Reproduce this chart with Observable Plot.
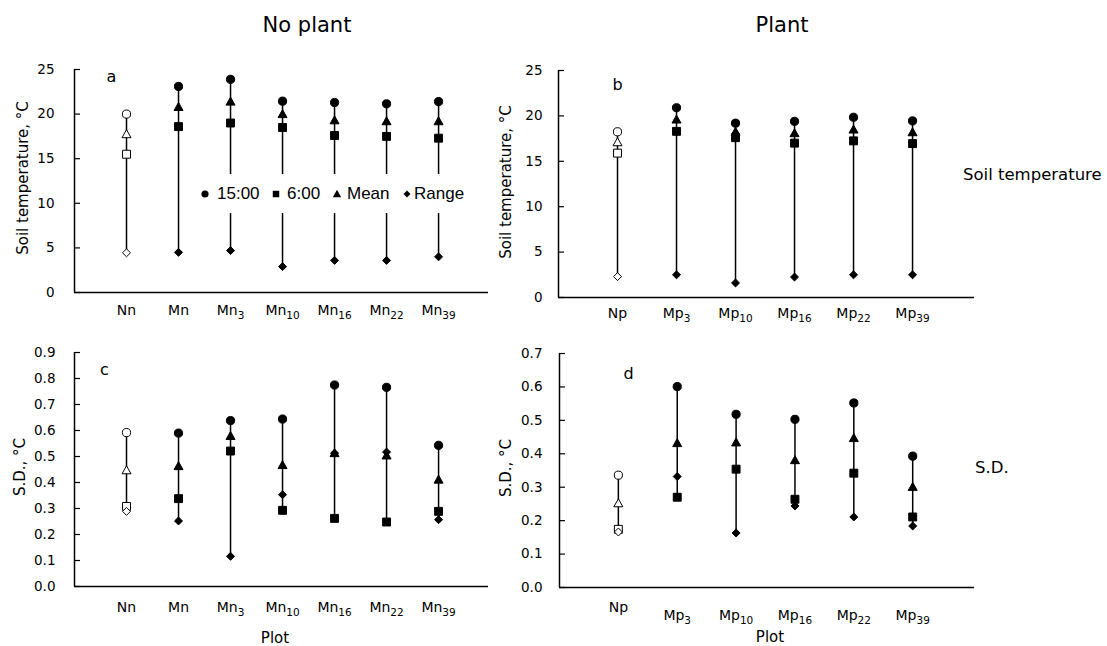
<!DOCTYPE html>
<html>
<head>
<meta charset="utf-8">
<script src="https://cdn.jsdelivr.net/npm/d3@7"></script>
<script src="https://cdn.jsdelivr.net/npm/@observablehq/plot@0.6"></script>
<style>
  html, body { margin: 0; padding: 0; background: white; }
  #wrap { position: relative; width: 1107px; height: 646px; background: white; font-family: "DejaVu Sans", sans-serif; color: black; overflow: hidden; }
  .t { position: absolute; transform: translate(-50%, -50%); white-space: nowrap; }
  .l { position: absolute; transform: translate(0, -50%); white-space: nowrap; }
  .r { position: absolute; transform: translate(-50%, -50%) rotate(-90deg); white-space: nowrap; }
  .panel { position: absolute; }
  .panel g[aria-label="x-axis tick label"] { font-size: 14px; }
  .panel g[aria-label="y-axis tick label"] { font-size: 13.5px; }
  .panel g[aria-label="text"] { font-size: 16px; }
  #legend { position: absolute; left: 196px; top: 174px; width: 276px; height: 39px; background: white; z-index: 2; font-family: "Liberation Sans", Arial, sans-serif; font-size: 17px; }
  #legend svg, #legend span { position: absolute; }
  #legend span { top: 50%; transform: translate(0, -50%); }
</style>
</head>
<body>
<div id="wrap">
  <div class="t" style="left:307px;top:25px;font-size:21px">No plant</div>
  <div class="t" style="left:782px;top:25px;font-size:21px">Plant</div>
  <div class="l" style="left:963px;top:174px;font-size:16.5px">Soil temperature</div>
  <div class="l" style="left:975px;top:467px;font-size:16.5px">S.D.</div>
  <div class="r" style="left:23px;top:178px;font-size:15px">Soil temperature, °C</div>
  <div class="r" style="left:506px;top:182px;font-size:15px">Soil temperature, °C</div>
  <div class="r" style="left:20px;top:467px;font-size:15px">S.D., °C</div>
  <div class="r" style="left:506px;top:468px;font-size:15px">S.D., °C</div>
  <div class="t" style="left:275px;top:638px;font-size:15px">Plot</div>
  <div class="t" style="left:770px;top:637px;font-size:15px">Plot</div>
  <div id="legend"></div>
</div>
<script>
// ---------- data ----------
const plotsNoPlant = ["Nn", "Mn", "Mn_3", "Mn_10", "Mn_16", "Mn_22", "Mn_39"];
const plotsPlant = ["Np", "Mp_3", "Mp_10", "Mp_16", "Mp_22", "Mp_39"];

// a: soil temperature, no plant (°C)
const tempNo1500 = [20.0, 23.1, 23.9, 21.45, 21.3, 21.15, 21.4];
const tempNo0600 = [15.5, 18.6, 19.0, 18.5, 17.6, 17.5, 17.3];
const tempNoMean = [17.75, 20.8, 21.4, 20.0, 19.3, 19.2, 19.2];
const tempNoRange = [4.45, 4.5, 4.7, 2.9, 3.6, 3.6, 4.0];

// b: soil temperature, plant (°C)
const tempPl1500 = [18.25, 20.9, 19.2, 19.4, 19.85, 19.45];
const tempPl0600 = [15.9, 18.3, 17.6, 17.0, 17.25, 16.95];
const tempPlMean = [17.1, 19.6, 18.25, 18.1, 18.5, 18.2];
const tempPlRange = [2.3, 2.5, 1.6, 2.25, 2.5, 2.5];

// c: S.D., no plant (°C)
const sdNo1500 = [0.592, 0.590, 0.638, 0.644, 0.775, 0.766, 0.543];
const sdNo0600 = [0.308, 0.338, 0.521, 0.293, 0.262, 0.248, 0.289];
const sdNoMean = [0.447, 0.463, 0.579, 0.467, 0.513, 0.504, 0.411];
const sdNoRange = [0.289, 0.252, 0.116, 0.353, 0.513, 0.517, 0.257];

// d: S.D., plant (°C)
const sdPl1500 = [0.336, 0.601, 0.518, 0.503, 0.552, 0.393];
const sdPl0600 = [0.174, 0.270, 0.354, 0.264, 0.342, 0.211];
const sdPlMean = [0.252, 0.432, 0.434, 0.381, 0.447, 0.301];
const sdPlRange = [0.166, 0.332, 0.163, 0.244, 0.211, 0.184];

const tempTicks = [0, 5, 10, 15, 20, 25];
const sdTicksNo = [0, 0.1, 0.2, 0.3, 0.4, 0.5, 0.6, 0.7, 0.8, 0.9];
const sdTicksPl = [0, 0.1, 0.2, 0.3, 0.4, 0.5, 0.6, 0.7];
const legendLabels = ["15:00", "6:00", "Mean", "Range"];

// ---------- symbols ----------
const SYM = {
  circle: { draw(c, size) { const s = Math.sqrt(size / Math.PI); c.moveTo(s, 0); c.arc(0, 0, s, 0, 2 * Math.PI); } },
  square: { draw(c, size) { const s = Math.sqrt(size / Math.PI) * 0.9; c.moveTo(-s, -s); c.lineTo(s, -s); c.lineTo(s, s); c.lineTo(-s, s); c.closePath(); } },
  triangle: { draw(c, size) { const s = Math.sqrt(size / Math.PI); c.moveTo(0, -s); c.lineTo(s, s * 0.78); c.lineTo(-s, s * 0.78); c.closePath(); } },
  diamond: { draw(c, size) { const s = Math.sqrt(size / Math.PI) * 0.95; c.moveTo(0, -s); c.lineTo(s, 0); c.lineTo(0, s); c.lineTo(-s, 0); c.closePath(); } }
};

function panel(cfg) {
  const n = cfg.labels.length;
  const idx = d3.range(n);
  const series = [cfg.s15, cfg.s6, cfg.mean, cfg.range];
  const lo = idx.map(i => d3.min(series, s => s[i]));
  const hi = idx.map(i => d3.max(series, s => s[i]));
  const fw = cfg.width - cfg.ml - cfg.mr;
  const fill = i => (i === 0 ? "white" : "black");
  const dotOpts = (vals, sym, r) => ({ x: i => i, y: i => vals[i], r, symbol: sym, fill, stroke: "black", strokeWidth: 1 });
  const svg = Plot.plot({
    width: cfg.width, height: cfg.height,
    marginLeft: cfg.ml, marginRight: cfg.mr, marginTop: cfg.mt, marginBottom: cfg.mb,
    style: { background: "transparent", fontFamily: "DejaVu Sans, sans-serif", color: "black", overflow: "visible" },
    x: { type: "linear", domain: [-1, cfg.xMax] },
    y: { domain: cfg.yDomain },
    color: { type: "identity" },
    marks: [
      Plot.ruleX(idx, { x: i => i, y1: i => lo[i], y2: i => hi[i], stroke: "black", strokeWidth: 1.5 }),
      Plot.dot(idx, dotOpts(cfg.s15, SYM.circle, 4.1)),
      Plot.dot(idx, dotOpts(cfg.s6, SYM.square, 4.4)),
      Plot.dot(idx, dotOpts(cfg.mean, SYM.triangle, 4.5)),
      Plot.dot(idx, dotOpts(cfg.range, SYM.diamond, 4.2)),
      Plot.ruleX([-1], { stroke: "black", strokeWidth: 1.5 }),
      Plot.ruleY([cfg.yDomain[0]], { stroke: "black", strokeWidth: 1.5 }),
      Plot.tickY(cfg.yTicks, { y: d => d, insetRight: fw - 6, stroke: "black", strokeWidth: 1.2 }),
      Plot.axisY(cfg.yTicks, { tickSize: 0, tickPadding: cfg.yPad, tickFormat: cfg.yFmt, label: null }),
      Plot.axisX(idx, { tickSize: 0, tickPadding: cfg.xPad, tickFormat: i => cfg.labels[i], label: null }),
      Plot.text([cfg.letter], { frameAnchor: "top-left", dx: cfg.ldx, dy: cfg.ldy, textAnchor: "middle", lineAnchor: "middle" })
    ]
  });
  // subscripts in plot names
  svg.querySelectorAll('g[aria-label="x-axis tick label"] text').forEach(t => {
    const s = t.textContent;
    if (s.includes("_")) {
      const [base, sub] = s.split("_");
      t.textContent = "";
      const a = document.createElementNS("http://www.w3.org/2000/svg", "tspan");
      a.textContent = base;
      const b = document.createElementNS("http://www.w3.org/2000/svg", "tspan");
      b.textContent = sub;
      b.setAttribute("font-size", "10.5");
      b.setAttribute("dy", "4");
      t.appendChild(a); t.appendChild(b);
      if (cfg.subShift) t.setAttribute("transform", (t.getAttribute("transform") || "") + ` translate(0,${cfg.subShift})`);
    }
  });
  svg.classList.add("panel");
  svg.style.left = cfg.left + "px";
  svg.style.top = cfg.top + "px";
  document.getElementById("wrap").appendChild(svg);
}

const f1 = d3.format(".1f");

panel({ labels: plotsNoPlant, s15: tempNo1500, s6: tempNo0600, mean: tempNoMean, range: tempNoRange,
  yDomain: [0, 25], yTicks: tempTicks, yFmt: d => String(d), xMax: 6.96,
  left: 0, top: 50, width: 500, height: 290, ml: 74, mr: 12, mt: 19, mb: 48,
  yPad: 20, xPad: 13, letter: "a", ldx: 37, ldy: 7 });

panel({ labels: plotsPlant, s15: tempPl1500, s6: tempPl0600, mean: tempPlMean, range: tempPlRange,
  yDomain: [0, 25], yTicks: tempTicks, yFmt: d => String(d), xMax: 6.05,
  left: 500, top: 50, width: 480, height: 290, ml: 58, mr: 6, mt: 20, mb: 43,
  yPad: 16, xPad: 11, letter: "b", ldx: 59, ldy: 14 });

panel({ labels: plotsNoPlant, s15: sdNo1500, s6: sdNo0600, mean: sdNoMean, range: sdNoRange,
  yDomain: [0, 0.9], yTicks: sdTicksNo, yFmt: f1, xMax: 6.96,
  left: 0, top: 340, width: 500, height: 306, ml: 74, mr: 12, mt: 12, mb: 60,
  yPad: 19, xPad: 16, letter: "c", ldx: 30, ldy: 17 });

panel({ labels: plotsPlant, s15: sdPl1500, s6: sdPl0600, mean: sdPlMean, range: sdPlRange,
  yDomain: [0, 0.7], yTicks: sdTicksPl, yFmt: f1, xMax: 6.05,
  left: 500, top: 340, width: 480, height: 306, ml: 59, mr: 6, mt: 13, mb: 59,
  yPad: 17, xPad: 15, subShift: 8, letter: "d", ldx: 69, ldy: 20 });

// ---------- legend (inside panel a) ----------
const legend = document.getElementById("legend");
const legSyms = [SYM.circle, SYM.square, SYM.triangle, SYM.diamond];
const symX = [9, 80, 141, 211];
const txtX = [21, 91, 151, 218];
const legR = [3.6, 3.6, 4.2, 3.7];
legendLabels.forEach((lab, k) => {
  const p = d3.path();
  legSyms[k].draw(p, legR[k] * legR[k] * Math.PI);
  const s = d3.create("svg").attr("width", 14).attr("height", 14)
    .style("left", (symX[k] - 7) + "px").style("top", (19.5 - 7) + "px");
  s.append("path").attr("d", p.toString()).attr("transform", "translate(7,7)").attr("fill", "black");
  legend.appendChild(s.node());
  const sp = document.createElement("span");
  sp.textContent = lab;
  sp.style.left = txtX[k] + "px";
  legend.appendChild(sp);
});
</script>
</body>
</html>
